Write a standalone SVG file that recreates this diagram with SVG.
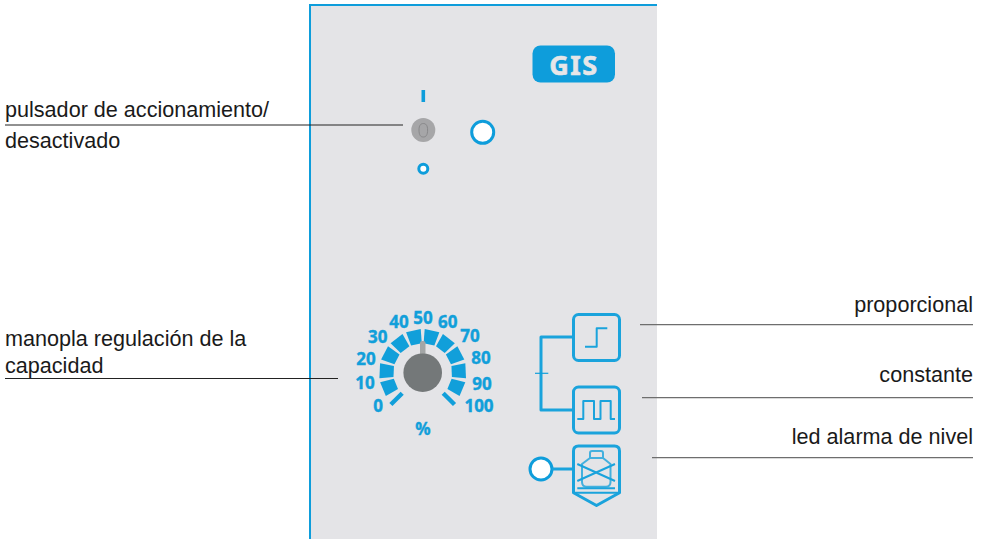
<svg xmlns="http://www.w3.org/2000/svg" width="986" height="539" viewBox="0 0 986 539">
<style>
.lbl{font-family:"Liberation Sans",Arial,sans-serif;font-size:21.600px;fill:#1a1a1a}
.r{text-anchor:end}
.lead{stroke:#222;stroke-width:1;fill:none}
.leadg{stroke:#6e6e6e;stroke-width:1.300;fill:none}
.num{font-family:"Noto Sans","Open Sans",sans-serif;font-weight:700;font-size:17px;fill:#119fda;text-anchor:middle;stroke:#119fda;stroke-width:.4}
.bl{stroke:#1aa3dc;stroke-width:3;fill:none;stroke-linejoin:round}
.th{stroke:#1aa3dc;stroke-width:2;fill:none;stroke-linejoin:round}
.led{stroke:#0e9ddb;stroke-width:3;fill:#fff}
.seg{fill:#119fda}
</style>
<defs>
<polygon id="w" points="-5.500,-29 5.500,-29 7.500,-43 -7.500,-43"/>
<rect id="t" x="-2.200" y="-45" width="4.400" height="16"/>
</defs>
<rect width="986" height="539" fill="#fff"/>
<g id="panel">
<rect x="310" y="5" width="347" height="534" fill="#e4e4e7"/>
<path d="M310 539V5H657" fill="none" stroke="#0e9ddb" stroke-width="2"/>
</g>
<g id="logo">
<rect x="532.500" y="45.500" width="82.500" height="37" rx="8" fill="#0e9ddb"/>
<text x="574" y="74.500" text-anchor="middle" font-family="'Noto Sans','Open Sans',sans-serif" font-weight="700" font-size="27" letter-spacing="1.500" fill="#e6e6e8" stroke="#e6e6e8" stroke-width=".6">GIS</text>
</g>
<g id="switch">
<rect x="421.500" y="90" width="3.600" height="12" fill="#0e9ddb"/>
<circle cx="423.300" cy="130" r="12" fill="#a6a6a8"/>
<path d="M419 130c0-5 2-6.500 4.300-6.500s4.300 1.500 4.300 6.500-1.500 7-4.300 7-4.300-2-4.300-7z" fill="none" stroke="#88888a" stroke-width="1"/>
<circle cx="423.300" cy="168.700" r="4.500" fill="#fff" stroke="#0e9ddb" stroke-width="3"/>
</g>
<g id="led-power"><circle class="led" cx="482.700" cy="132.300" r="11"/></g>
<g id="dial">
<g class="seg">
<use href="#w" transform="translate(422.700 372.700) rotate(-12.500)"/>
<use href="#w" transform="translate(422.700 372.700) rotate(-37.500)"/>
<use href="#w" transform="translate(422.700 372.700) rotate(-62.500)"/>
<use href="#w" transform="translate(422.700 372.700) rotate(-87.500)"/>
<use href="#w" transform="translate(422.700 372.700) rotate(-112.500)"/>
<use href="#w" transform="translate(422.700 372.700) rotate(12.500)"/>
<use href="#w" transform="translate(422.700 372.700) rotate(37.500)"/>
<use href="#w" transform="translate(422.700 372.700) rotate(62.500)"/>
<use href="#w" transform="translate(422.700 372.700) rotate(87.500)"/>
<use href="#w" transform="translate(422.700 372.700) rotate(112.500)"/>
<use href="#t" transform="translate(422.700 372.700) rotate(-135)"/>
<use href="#t" transform="translate(422.700 372.700) rotate(135)"/>
</g>
<rect x="420" y="341" width="5.500" height="16" rx="2" fill="#a3a6a6"/>
<circle cx="422.700" cy="372.700" r="19.300" fill="#747879"/>
<text class="num" x="378" y="411.500">0</text>
<text class="num" x="365" y="389">10</text>
<text class="num" x="366" y="365">20</text>
<text class="num" x="377.700" y="342.500">30</text>
<text class="num" x="399" y="327.500">40</text>
<text class="num" x="423" y="324">50</text>
<text class="num" x="447.700" y="327.500">60</text>
<text class="num" x="470" y="342">70</text>
<text class="num" x="481" y="364">80</text>
<text class="num" x="482" y="390">90</text>
<text class="num" x="479" y="411.500">100</text>
<text class="num" x="423" y="435">%</text>
</g>
<g id="mode-proporcional">
<rect class="bl" x="573.500" y="314.500" width="46" height="46" rx="5"/>
<path class="th" d="M585 346.700H596.700V328.300H607.300"/>
</g>
<g id="mode-constante">
<rect class="bl" x="573.500" y="387" width="46" height="46" rx="5"/>
<path class="th" d="M577.300 419H583.300V401H594V419H600.500V401H610.700V419H615"/>
</g>
<g id="alarm">
<path class="bl" d="M573.500 451Q573.500 446 578.500 446H614.500Q619.500 446 619.500 451V492.700L596.500 505.500 573.500 492.700Z"/>
<path class="th" d="M573.500 492.700H619.500M577.300 488.300H615"/>
<path class="th" d="M590 458V453Q590 451 592 451H601Q603 451 603 453V458M590 458H603L610.500 464V482Q610.500 486.700 606 486.700H586.500Q582 486.700 582 482V464Z" stroke-width="1.400" opacity=".8"/>
<path class="th" d="M577.300 464 615 481M615 464 577.300 481"/>
<circle class="led" cx="541" cy="469" r="11"/>
<path class="bl" d="M552 469H573.500"/>
</g>
<g id="connectors">
<path class="bl" d="M573.500 337H541V410H573.500"/>
<path d="M535 373.300H548.300" stroke="#119fda" stroke-width="1.200"/>
<path class="lead" d="M5 125H403M5 378.500H338"/>
<path class="leadg" d="M640 324.700H973M642 397.700H973M652 457.700H973"/>
</g>
<g id="labels">
<text class="lbl" x="5" y="116.500">pulsador de accionamiento/</text>
<text class="lbl" x="5" y="148.300">desactivado</text>
<text class="lbl" x="5" y="346">manopla regulación de la</text>
<text class="lbl" x="5" y="373">capacidad</text>
<text class="lbl r" x="973" y="311.500">proporcional</text>
<text class="lbl r" x="973" y="382.300">constante</text>
<text class="lbl r" x="973" y="444">led alarma de nivel</text>
</g>
</svg>
